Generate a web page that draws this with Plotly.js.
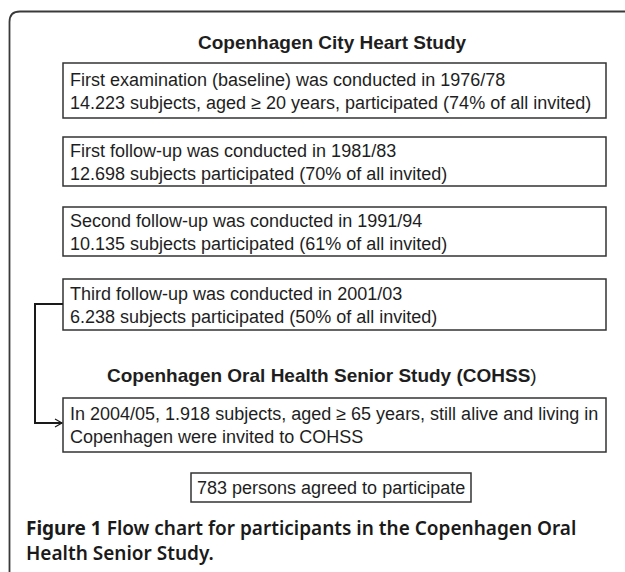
<!DOCTYPE html>
<html>
<head>
<meta charset="utf-8">
<script src="https://cdn.plot.ly/plotly-3.0.1.min.js"></script>
<style>html,body{margin:0;padding:0;background:#fff;}#chart{width:625px;height:572px;}</style>
</head>
<body>
<div id="chart"></div>
<script>
// ---- data ----
const studyTitles = ["Copenhagen City Heart Study", "Copenhagen Oral Health Senior Study (COHSS)"];
const stages = ["First examination (baseline)", "First follow-up", "Second follow-up", "Third follow-up"];
const stageYears = ["1976/78", "1981/83", "1991/94", "2001/03"];
const stageSubjects = [14223, 12698, 10135, 6238];
const stagePercent = [74, 70, 61, 50];
const baselineMinAge = 20;
const cohssYears = "2004/05";
const cohssInvited = 1918;
const cohssMinAge = 65;
const cohssAgreed = 783;
const captionBold = "Figure 1";
const captionText = "Flow chart for participants in the Copenhagen Oral<br>Health Senior Study.";

// ---- helpers ----
function fmt(n){ return String(n).replace(/\B(?=(\d{3})+(?!\d))/g, "."); }

const boxTexts = stages.map((s, i) => {
  const l1 = s + " was conducted in " + stageYears[i];
  const l2 = i === 0
    ? fmt(stageSubjects[i]) + " subjects, aged \u2265 " + baselineMinAge + " years, participated (" + stagePercent[i] + "% of all invited)"
    : fmt(stageSubjects[i]) + " subjects participated (" + stagePercent[i] + "% of all invited)";
  return l1 + "<br>" + l2;
});
boxTexts.push("In " + cohssYears + ", " + fmt(cohssInvited) + " subjects, aged \u2265 " + cohssMinAge +
  " years, still alive and living in<br>Copenhagen were invited to COHSS");

// ---- layout geometry (pixels) ----
const boxX0 = 63, boxX1 = 606, textX = 68;
const boxY = [[63,118],[137,186],[207,256],[279,330],[398,452]];
const finalBox = {x0:191, x1:471, y0:473, y1:502};
const titleY = [42, 375];
const lineCol = "#333";
const textCol = "#1e1e1e";
const boxFont = {family:"Liberation Sans, Arial, sans-serif", size:18, color:textCol};
const titleFont = {family:"Liberation Sans, Arial, sans-serif", size:19, color:textCol};

const shapes = [];
const annotations = [];

// outer frame with rounded top-left corner
shapes.push({type:"path", path:"M 9.5,572 L 9.5,22 Q 9.5,11.5 20,11.5 L 625,11.5",
  line:{color:"#3a3a3a", width:1.8}, xref:"x", yref:"y"});

boxY.forEach((b, i) => {
  shapes.push({type:"rect", xref:"x", yref:"y", x0:boxX0, x1:boxX1, y0:b[0], y1:b[1],
    line:{color:lineCol, width:1.5}, fillcolor:"rgba(0,0,0,0)"});
  annotations.push({xref:"x", yref:"y", x:textX, y:(b[0]+b[1])/2 + 0.5, xanchor:"left", yanchor:"middle",
    align:"left", text:boxTexts[i], showarrow:false, font:boxFont});
});

shapes.push({type:"rect", xref:"x", yref:"y", x0:finalBox.x0, x1:finalBox.x1, y0:finalBox.y0, y1:finalBox.y1,
  line:{color:lineCol, width:1.5}, fillcolor:"rgba(0,0,0,0)"});
annotations.push({xref:"x", yref:"y", x:(finalBox.x0+finalBox.x1)/2, y:(finalBox.y0+finalBox.y1)/2 + 0.5,
  xanchor:"center", yanchor:"middle", text:fmt(cohssAgreed) + " persons agreed to participate",
  showarrow:false, font:boxFont});

// titles
annotations.push({xref:"x", yref:"y", x:332, y:titleY[0], xanchor:"center", yanchor:"middle",
  text:"<b>" + studyTitles[0] + "</b>", showarrow:false, font:titleFont});
const t2 = studyTitles[1];
annotations.push({xref:"x", yref:"y", x:322, y:titleY[1], xanchor:"center", yanchor:"middle",
  text:"<b>" + t2.slice(0, -1) + "</b>" + t2.slice(-1), showarrow:false, font:titleFont});

// connector from third follow-up to COHSS box
const connY0 = 304, connY1 = 423, connX = 35;
shapes.push({type:"path", xref:"x", yref:"y",
  path:`M ${boxX0},${connY0} L ${connX},${connY0} L ${connX},${connY1} L ${boxX0-1},${connY1}`,
  line:{color:"#1a1a1a", width:2}});
shapes.push({type:"path", xref:"x", yref:"y",
  path:`M ${boxX0-8},${connY1-4} L ${boxX0-1},${connY1} L ${boxX0-8},${connY1+4}`,
  line:{color:"#1a1a1a", width:1.2}});

// caption
annotations.push({xref:"x", yref:"y", x:24, y:540.5, xanchor:"left", yanchor:"middle", align:"left",
  text:"<b>" + captionBold + "</b> " + captionText, showarrow:false,
  font:{family:"Noto Sans, Open Sans, sans-serif", size:19, color:"#1a1a1a", weight:600}});

const layout = {
  width:625, height:572,
  margin:{l:0, r:0, t:0, b:0},
  paper_bgcolor:"#fff", plot_bgcolor:"#fff",
  xaxis:{range:[0,625], visible:false, fixedrange:true},
  yaxis:{range:[572,0], visible:false, fixedrange:true},
  shapes:shapes, annotations:annotations, showlegend:false
};
Plotly.newPlot("chart", [], layout, {displayModeBar:false, staticPlot:true});
</script>
</body>
</html>
